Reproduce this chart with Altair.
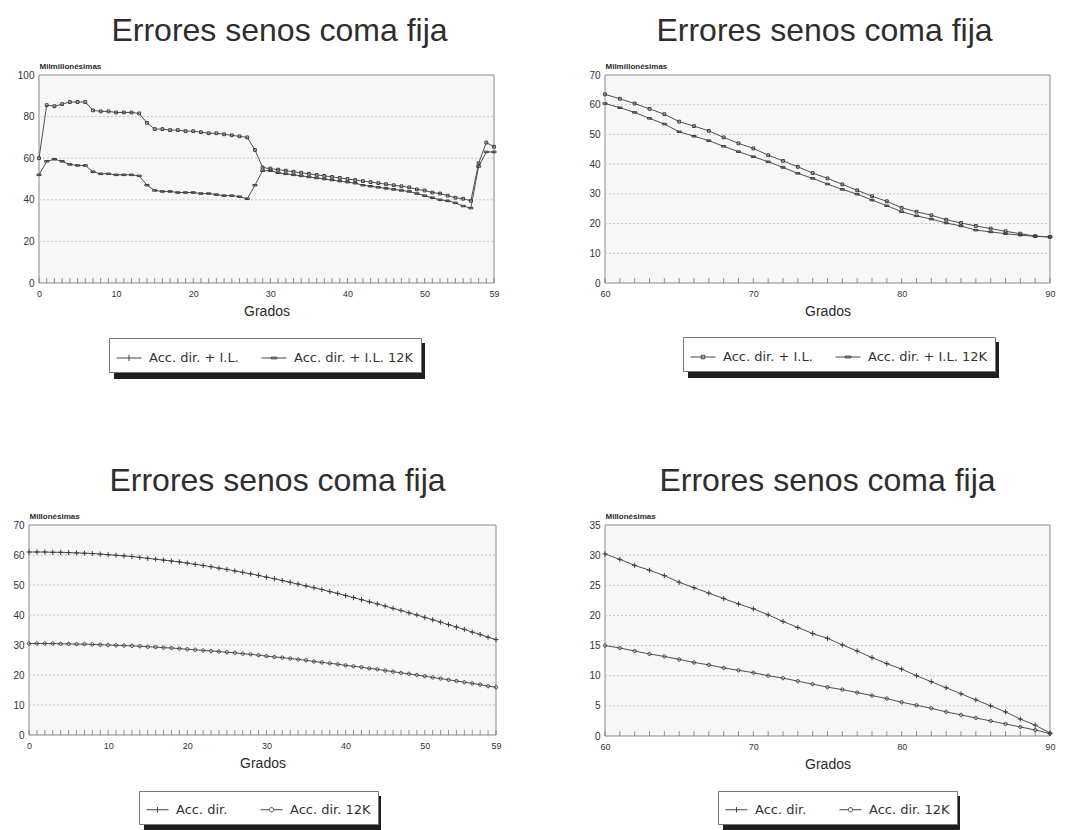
import altair as alt
import pandas as pd

# ---------------- data ----------------
deg_low = list(range(0, 60))
deg_high = list(range(60, 91))

names_top = ["Acc. dir. + I.L.", "Acc. dir. + I.L. 12K"]
names_bot = ["Acc. dir.", "Acc. dir. 12K"]

# panel 1 (top-left), milmillonésimas, 0..59 degrees
p1_a = [60, 85.5, 85, 86, 87, 87, 87, 83, 82.5, 82.5, 82, 82, 82, 81.5, 77, 74,
        74, 73.5, 73.5, 73, 73, 72.5, 72, 72, 71.5, 71, 70.5, 70, 64, 55.5,
        55, 54.5, 54, 53.5, 53, 52.5, 52, 51.5, 51, 50.5, 50, 49.5, 49, 48.5,
        48, 47.5, 47, 46.5, 46, 45, 44.5, 43.5, 43, 42, 41, 40.5, 39.5, 57.5,
        67.5, 65.5]
p1_b = [52, 58.5, 59.5, 58.5, 57, 56.5, 56.5, 53.5, 52.5, 52.5, 52, 52, 52, 51.5,
        47, 44.5, 44, 44, 43.5, 43.5, 43.5, 43, 43, 42.5, 42, 42, 41.5, 40.5,
        47, 54, 54, 53, 52.5, 52, 51.5, 51, 50.5, 50, 49.5, 49, 48.5, 48, 47,
        46.5, 46, 45.5, 45, 44.5, 44, 43, 42, 41, 40, 39.5, 38.5, 37, 36, 56,
        63, 63]

# panel 2 (top-right), milmillonésimas, 60..90 degrees
p2_a = [63.5, 62, 60.4, 58.6, 56.8, 54.3, 52.8, 51.2, 49, 47, 45.3, 43, 41.1,
        39.1, 37, 35.2, 33.2, 31.2, 29.2, 27.5, 25.3, 24, 22.8, 21.3, 20.2,
        19.2, 18.3, 17.4, 16.6, 15.8, 15.5]
p2_b = [60.4, 59, 57.4, 55.4, 53.5, 50.9, 49.4, 47.9, 46, 44.2, 42.5, 40.8,
        38.9, 36.9, 35.2, 33.3, 31.5, 29.9, 27.9, 26, 24, 22.6, 21.5, 20.2,
        19.2, 17.8, 17.2, 16.6, 16.1, 15.7, 15.5]

# panel 3 (bottom-left), millonésimas, 0..59 degrees
p3_a = [61.0, 61.0, 61.0, 60.9, 60.9, 60.8, 60.7, 60.6, 60.5, 60.3, 60.1, 59.9,
        59.7, 59.5, 59.2, 58.9, 58.6, 58.3, 58.0, 57.7, 57.3, 56.9, 56.5, 56.1,
        55.6, 55.2, 54.7, 54.2, 53.7, 53.2, 52.6, 52.1, 51.5, 50.9, 50.3, 49.7,
        49.1, 48.5, 47.8, 47.2, 46.5, 45.8, 45.1, 44.4, 43.7, 43.0, 42.2, 41.5,
        40.7, 40.0, 39.2, 38.4, 37.6, 36.8, 36.0, 35.2, 34.3, 33.5, 32.6, 31.8]
p3_b = [30.5, 30.5, 30.5, 30.5, 30.4, 30.4, 30.3, 30.3, 30.2, 30.1, 30.0, 29.9,
        29.8, 29.7, 29.6, 29.4, 29.3, 29.1, 29.0, 28.8, 28.6, 28.4, 28.2, 28.0,
        27.8, 27.6, 27.4, 27.1, 26.9, 26.6, 26.3, 26.0, 25.8, 25.5, 25.2, 24.9,
        24.5, 24.2, 23.9, 23.6, 23.2, 22.9, 22.6, 22.2, 21.9, 21.5, 21.1, 20.7,
        20.4, 20.0, 19.6, 19.2, 18.8, 18.4, 18.0, 17.6, 17.2, 16.8, 16.3, 15.9]

# panel 4 (bottom-right), millonésimas, 60..90 degrees
p4_a = [30.2, 29.3, 28.3, 27.5, 26.6, 25.5, 24.6, 23.7, 22.8, 21.9, 21.1, 20.1,
        19.0, 18.0, 17.0, 16.2, 15.1, 14.1, 13.0, 12.0, 11.1, 10.0, 9.0, 8.0,
        7.0, 6.0, 5.0, 4.0, 2.8, 1.8, 0.5]
p4_b = [15.0, 14.6, 14.1, 13.6, 13.2, 12.7, 12.2, 11.8, 11.3, 10.9, 10.5, 10.0,
        9.6, 9.1, 8.6, 8.1, 7.7, 7.2, 6.7, 6.2, 5.6, 5.1, 4.6, 4.0, 3.5, 3.0,
        2.5, 2.0, 1.5, 1.0, 0.4]

x_ticks_low = [0, 10, 20, 30, 40, 50, 59]
x_ticks_high = [60, 70, 80, 90]
title_text = "Errores senos coma fija"
x_title = "Grados"

# ---------------- styling helpers ----------------
INK = "#3a3a3a"
M_PLUS = "M-1,0L1,0M0,-1L0,1"
M_CIRCLE = "M-0.65,0A0.65,0.65 0 1 1 0.65,0A0.65,0.65 0 1 1 -0.65,0Z"
M_SQUARE = "M-0.55,-0.55H0.55V0.55H-0.55Z"
M_DASH = "M-0.8,-0.3H0.8V0.3H-0.8Z"

L_PLUS = "M-1,0L1,0M0,-0.25L0,0.25"
L_CIRCLE = ("M-1,0L-0.2,0M0.2,0L1,0M-0.2,0A0.2,0.2 0 1 1 0.2,0"
            "A0.2,0.2 0 1 1 -0.2,0Z")
L_SQUARE = "M-1,0L1,0M-0.14,-0.14H0.14V0.14H-0.14Z"
L_DASH = "M-1,0L1,0M-0.22,-0.07H0.22V0.07H-0.22Z"


def panel(xs, a, b, names, xdom, xvals, ydom, ystep, ytitle, w, h, inset,
          shapes, lshapes, lx, ly, lw, lh, sym, colpad, title_dx):
    df = pd.DataFrame({
        "x": xs + xs,
        "y": a + b,
        "s": [names[0]] * len(xs) + [names[1]] * len(xs),
    })
    yvals = list(range(ydom[0], ydom[1] + 1, ystep))
    ticks_df = pd.DataFrame({"x": xs, "y": [ydom[0]] * len(xs)})
    grid_df = pd.DataFrame({"y": yvals[1:-1]})

    xenc = alt.X("x:Q",
                 scale=alt.Scale(domain=xdom, nice=False, zero=False,
                                 range=[inset, w]),
                 axis=alt.Axis(values=xvals, title=x_title, grid=False,
                               ticks=False, domain=False, labelFontSize=9,
                               labelPadding=6, labelFlush=False,
                               titleFontSize=14, titleFontWeight="normal",
                               titlePadding=6, titleX=(inset + w) / 2))
    yenc = alt.Y("y:Q", scale=alt.Scale(domain=ydom, nice=False),
                 axis=alt.Axis(values=yvals, offset=-inset,
                               title=ytitle, titleAngle=0, titleAlign="left",
                               titleBaseline="bottom", titleX=0, titleY=-5,
                               titleFontSize=8, titleFontWeight="bold",
                               grid=False, ticks=False, domain=False,
                               labelPadding=5, labelFontSize=10))

    frame = alt.Chart(pd.DataFrame({"k": [0]})).mark_rect(
        fill="#f7f7f7", stroke="#8a8a8a", strokeWidth=1).encode(
        x=alt.value(inset), x2=alt.value(w), y=alt.value(0), y2=alt.value(h))

    grid = alt.Chart(grid_df).mark_rule(color="#c4c4c4", strokeWidth=1,
                                        strokeDash=[2, 2]).encode(
        x=alt.value(inset), x2=alt.value(w), y=yenc)

    lines = alt.Chart(df).mark_line(color="#505050", strokeWidth=1).encode(
        x=xenc, y=yenc, detail="s:N")

    pts = alt.Chart(df).mark_point(color=INK, filled=False, strokeWidth=1,
                                   size=26, opacity=1).encode(
        x=xenc, y=yenc,
        shape=alt.Shape("s:N", scale=alt.Scale(domain=names, range=shapes),
                        legend=None))

    # legend-only layer (draws nothing; its shape scale carries line+marker symbols)
    leg = alt.Chart(df).transform_filter("false").mark_point(
        color="#444", filled=False, strokeWidth=1, size=sym * sym, opacity=1
    ).encode(
        x=xenc, y=yenc,
        shape=alt.Shape("s:N", scale=alt.Scale(domain=names, range=lshapes),
                        legend=alt.Legend(
                            title=None, orient="none", legendX=lx, legendY=ly,
                            direction="horizontal", fillColor="white",
                            strokeColor="#777", padding=7,
                            labelFont="DejaVu Sans", labelFontSize=13,
                            labelColor="#333", labelOffset=7,
                            columnPadding=colpad, symbolSize=sym * sym,
                            symbolStrokeColor="#444", symbolStrokeWidth=1,
                            symbolOpacity=1,
                            symbolFillColor="transparent")))

    inner = alt.Chart(ticks_df).mark_tick(color="#666", orient="vertical",
                                          size=5, thickness=1,
                                          yOffset=-2.5).encode(x=xenc, y=yenc)

    shadow = alt.Chart(pd.DataFrame({"k": [0]})).mark_rect(color="#1e1e1e").encode(
        x=alt.value(lx + 5), x2=alt.value(lx + 5 + lw),
        y=alt.value(ly + 5), y2=alt.value(ly + 5 + lh))

    return alt.layer(frame, grid, shadow, inner, lines, pts, leg).resolve_scale(
        shape="independent"
    ).properties(
        width=w, height=h,
        view=alt.ViewBackground(stroke="transparent", fill="transparent"),
        title=alt.TitleParams(title_text, font="Liberation Sans", fontSize=32,
                              fontWeight="normal", color="#2e2e2e",
                              anchor="middle", dx=title_dx, offset=14))


p1 = panel(deg_low, p1_a, p1_b, names_top, [0, 59], x_ticks_low, [0, 100], 20,
           "Milmillonésimas", 465, 208, 10, [M_SQUARE, M_DASH],
           [L_PLUS, L_DASH], 80, 263, 311, 36, 25, 20, 18)
p2 = panel(deg_high, p2_a, p2_b, names_top, [60, 90], x_ticks_high, [0, 70], 10,
           "Milmillonésimas", 445, 208, 0, [M_SQUARE, M_DASH],
           [L_SQUARE, L_DASH], 78, 262, 311, 36, 25, 20, -3)
p3 = panel(deg_low, p3_a, p3_b, names_bot, [0, 59], x_ticks_low, [0, 70], 10,
           "Millonésimas", 467, 210, 0, [M_PLUS, M_CIRCLE],
           [L_PLUS, L_CIRCLE], 110, 266, 237, 36, 22, 30, 15)
p4 = panel(deg_high, p4_a, p4_b, names_bot, [60, 90], x_ticks_high, [0, 35], 5,
           "Millonésimas", 445, 211, 0, [M_PLUS, M_CIRCLE],
           [L_PLUS, L_CIRCLE], 113, 266, 237, 36, 22, 30, 0)

chart = alt.concat(
    p1, p2, p3, p4,
    columns=2,
    spacing={"row": 84, "column": 86},
).properties(
    padding={"left": 4, "top": 6, "right": 0, "bottom": 0}
).configure(
    background="white"
).configure_view(
    stroke="transparent"
).configure_axis(
    labelFont="Liberation Sans", titleFont="Liberation Sans",
    labelColor="#333", titleColor="#2a2a2a"
)

chart.save("out.html", embed_options={"renderer": "svg", "actions": False})
